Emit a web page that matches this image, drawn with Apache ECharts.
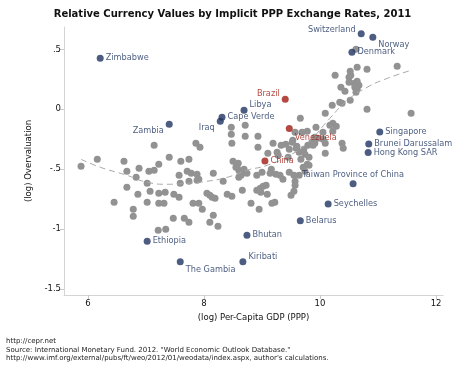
<!DOCTYPE html>
<html>
<head>
<meta charset="utf-8">
<script src="https://cdn.jsdelivr.net/npm/echarts@6/dist/echarts.min.js"></script>
<style>html,body{margin:0;padding:0;background:#fff}#c{width:465px;height:365px}</style>
</head>
<body>
<div id="c"></div>
<script>
// ---- data ----
const titleText = "Relative Currency Values by Implicit PPP Exchange Rates, 2011";
const xName = "(log) Per-Capita GDP (PPP)";
const yName = "(log) Overvaluation";
const sourceLines = [
  "http://cepr.net",
  "Source: International Monetary Fund. 2012. \"World Economic Outlook Database.\"",
  "http://www.imf.org/external/pubs/ft/weo/2012/01/weodata/index.aspx, author's calculations."
];
const xTicks = [6, 8, 10, 12];
const yTicks = [0.5, 0, -0.5, -1, -1.5];
const yTickLabels = [".5", "0", "-.5", "-1", "-1.5"];

// other countries (grey)
const otherCountries = [
  [5.88,-0.475],[6.16,-0.417],[6.62,-0.433],[6.67,-0.517],[6.88,-0.492],[6.83,-0.567],[7.05,-0.517],
  [7.14,-0.508],[7.22,-0.458],[7.40,-0.40],[7.60,-0.433],[7.74,-0.417],[7.57,-0.55],[7.71,-0.517],
  [7.78,-0.533],[7.88,-0.542],[7.91,-0.583],[7.74,-0.60],[8.16,-0.533],[7.14,-0.30],[7.86,-0.283],
  [7.93,-0.317],[6.67,-0.65],[7.02,-0.617],[7.07,-0.683],[6.86,-0.708],[7.22,-0.70],[7.33,-0.692],
  [7.48,-0.708],[7.57,-0.733],[6.45,-0.775],[7.02,-0.775],[7.22,-0.783],[7.31,-0.783],[6.78,-0.833],
  [6.78,-0.892],[7.47,-0.908],[7.66,-0.908],[7.74,-0.942],[7.21,-1.008],[7.34,-1.00],[7.81,-0.783],
  [7.91,-0.783],[7.97,-0.833],[8.05,-0.70],[8.10,-0.717],[8.14,-0.733],[8.16,-0.883],[8.10,-0.942],
  [8.24,-0.975],[8.33,-0.60],[7.59,-0.617],[7.88,-0.592],
  [8.47,-0.15],[8.47,-0.208],[8.48,-0.283],[8.71,-0.133],[8.71,-0.225],[8.93,-0.225],[8.93,-0.317],
  [9.19,-0.283],[9.33,-0.30],[9.41,-0.292],[9.47,-0.333],[9.26,-0.358],[9.28,-0.383],[9.10,-0.367],
  [8.50,-0.433],[8.57,-0.467],[8.59,-0.45],[8.55,-0.483],[8.60,-0.508],[8.64,-0.525],[8.64,-0.55],
  [8.60,-0.567],[8.74,-0.533],[8.91,-0.55],[9.00,-0.525],[9.16,-0.50],[9.14,-0.533],[9.24,-0.542],
  [9.31,-0.55],[9.36,-0.583],[9.47,-0.525],[9.55,-0.55],[9.64,-0.55],[9.57,-0.60],[9.71,-0.483],
  [9.78,-0.458],[9.74,-0.517],[9.67,-0.417],[9.64,-0.358],[9.74,-0.375],[9.81,-0.40],[9.60,-0.308],
  [9.53,-0.258],[8.66,-0.675],[8.91,-0.675],[8.97,-0.658],[9.02,-0.642],[9.07,-0.633],[8.98,-0.692],
  [8.40,-0.708],[8.48,-0.725],[9.09,-0.708],[9.22,-0.775],[9.17,-0.783],[8.81,-0.783],[8.95,-0.833],
  [9.50,-0.717],[9.55,-0.683],[9.57,-0.633],[8.19,-0.742],[8.69,-0.50],[9.79,-0.30],[9.91,-0.283],
  [10.09,-0.283],
  [11.33,0.358],[10.64,0.35],[10.81,0.333],[10.26,0.283],[10.52,0.317],[10.53,0.283],[10.50,0.267],
  [10.50,0.225],[10.59,0.217],[10.64,0.233],[10.67,0.20],[10.60,0.183],[10.64,0.167],[10.62,0.142],
  [10.36,0.183],[10.43,0.15],[10.34,0.058],[10.38,0.05],[10.21,0.033],[10.52,0.075],[10.81,0.0],
  [10.09,-0.033],[9.66,-0.075],[10.22,-0.117],[10.17,-0.133],[10.28,-0.142],[9.93,-0.15],
  [10.05,-0.192],[10.22,-0.183],[9.78,-0.183],[9.69,-0.192],[9.57,-0.192],[9.91,-0.233],
  [9.97,-0.242],[10.05,-0.25],[9.86,-0.275],[9.88,-0.30],[10.38,-0.283],[10.40,-0.325],
  [9.52,-0.275],[9.59,-0.325],[9.72,-0.333],[10.09,-0.367],[9.45,-0.40],[10.62,0.50],
  [11.57,-0.033],[9.81,-0.467]
];

// highlighted countries (navy)
const blueNames = ["Zimbabwe","Zambia","Iraq","Cape Verde","Libya","Switzerland","Norway","Denmark",
  "Singapore","Brunei Darussalam","Hong Kong SAR","Taiwan Province of China","Seychelles","Belarus",
  "Bhutan","Kiribati","Ethiopia","The Gambia"];
const blueX = [6.21,7.40,8.28,8.31,8.69,10.71,10.91,10.55,11.03,10.84,10.83,10.57,10.14,9.66,8.74,8.67,7.02,7.59];
const blueY = [0.425,-0.125,-0.10,-0.067,-0.008,0.63,0.60,0.475,-0.19,-0.29,-0.36,-0.62,-0.79,-0.93,-1.05,-1.27,-1.10,-1.27];

// highlighted countries (red)
const redNames = ["Brazil","Venezuela","China"];
const redX = [9.40,9.47,9.05];
const redY = [0.083,-0.16,-0.43];

// fitted curve
const fitX = [5.88,6.21,6.67,7.02,7.36,7.71,8.05,8.40,8.74,9.09,9.48,9.78,10.17,10.47,10.81,11.16,11.57];
const fitY = [-0.417,-0.483,-0.55,-0.608,-0.625,-0.617,-0.60,-0.567,-0.508,-0.467,-0.383,-0.283,-0.075,0.075,0.183,0.258,0.325];

// ---- label placement (style) ----
const labelPlace = {
  "Zambia": {position:'left', offset:[0,7]},
  "Iraq": {position:'left', offset:[0,7]},
  "Libya": {position:'right', offset:[0,-5]},
  "Brazil": {position:'left', offset:[0,-5]},
  "Venezuela": {position:'right', offset:[0,9]},
  "Switzerland": {position:'left', offset:[0,-4]},
  "Norway": {position:'right', offset:[0,8]},
  "Taiwan Province of China": {position:'top', offset:[0,1]},
  "Kiribati": {position:'right', offset:[0,-5]},
  "The Gambia": {position:'right', offset:[0,8]}
};

const FONT = "DejaVu Sans";
const NAVY = "#1f3461";
const RED = "#a31c12";

function labelled(names, xs, ys, color) {
  return names.map((n, i) => {
    const p = labelPlace[n] || {position:'right', offset:[0,0]};
    return {
      name: n, value: [xs[i], ys[i]],
      label: {show: true, formatter: '{b}', position: p.position, offset: p.offset,
        distance: 2, color: color, fontFamily: FONT, fontSize: 8.2}
    };
  });
}

const chart = echarts.init(document.getElementById('c'), null, {renderer: 'canvas'});
chart.setOption({
  animation: false,
  title: [
    {text: titleText, left: 'center', top: 4,
     textStyle: {fontFamily: FONT, fontSize: 10, fontWeight: 'bold', color: '#111'}},
    {text: sourceLines.join('\n'), left: 1, top: 332,
     textStyle: {fontFamily: FONT, fontSize: 7, fontWeight: 'normal', color: '#222', lineHeight: 8.5}}
  ],
  grid: {left: 64, right: 22, top: 27, bottom: 70, containLabel: false},
  xAxis: {
    type: 'value', min: 5.586, max: 12.12,
    name: xName, nameLocation: 'middle', nameGap: 15,
    nameTextStyle: {fontFamily: FONT, fontSize: 8.5, color: '#111'},
    axisLine: {show: true, onZero: false, lineStyle: {color: '#d4d4d4', width: 1}},
    axisTick: {show: true, length: 4, customValues: xTicks, lineStyle: {color: '#c8c8c8'}},
    axisLabel: {customValues: xTicks, margin: 4, fontFamily: FONT, fontSize: 8.5, color: '#111',
      formatter: v => String(v)},
    splitLine: {show: false}
  },
  yAxis: {
    type: 'value', min: -1.548, max: 0.686,
    name: yName, nameLocation: 'middle', nameGap: 24,
    nameTextStyle: {fontFamily: FONT, fontSize: 8.5, color: '#111'},
    axisLine: {show: true, onZero: false, lineStyle: {color: '#d4d4d4', width: 1}},
    axisTick: {show: true, length: 4, customValues: yTicks, lineStyle: {color: '#c8c8c8'}},
    axisLabel: {customValues: yTicks, margin: 3, fontFamily: FONT, fontSize: 8.5, color: '#111',
      formatter: v => { const i = yTicks.findIndex(t => Math.abs(t - v) < 1e-9); return i >= 0 ? yTickLabels[i] : ''; }},
    splitLine: {show: false}
  },
  series: [
    {type: 'scatter', data: otherCountries, symbolSize: 7, itemStyle: {color: '#929292', opacity: 1}, z: 2},
    {type: 'line', data: fitX.map((x, i) => [x, fitY[i]]), showSymbol: false, smooth: 0.5,
     lineStyle: {color: '#a8a8a8', width: 1, type: [6, 4]}, z: 3},
    {type: 'scatter', data: labelled(blueNames, blueX, blueY, NAVY), symbolSize: 7,
     itemStyle: {color: NAVY}, z: 4},
    {type: 'scatter', data: labelled(redNames, redX, redY, RED), symbolSize: 7,
     itemStyle: {color: RED}, z: 4}
  ]
});
</script>
</body>
</html>
